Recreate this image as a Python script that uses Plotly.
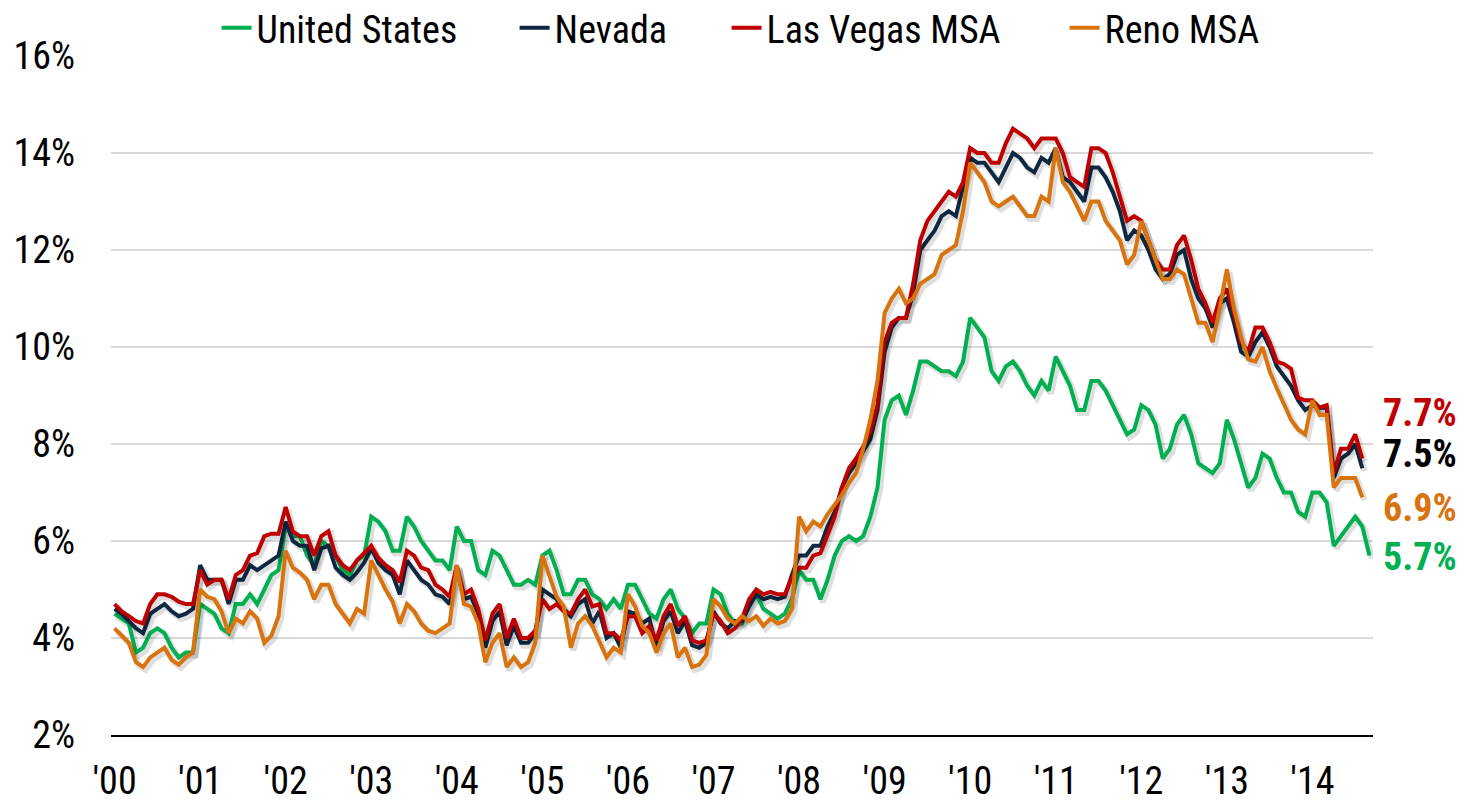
import plotly.graph_objects as go

# ---------------- data (monthly, Jan 2000 onward, not seasonally adjusted, %) ----------------
year_labels = ["'00", "'01", "'02", "'03", "'04", "'05", "'06", "'07",
               "'08", "'09", "'10", "'11", "'12", "'13", "'14"]
y_ticks = [2, 4, 6, 8, 10, 12, 14, 16]

united_states = [
    4.5, 4.4, 4.3, 3.7, 3.8, 4.1, 4.2, 4.1, 3.8, 3.6, 3.7, 3.7,
    4.7, 4.6, 4.5, 4.2, 4.1, 4.7, 4.7, 4.9, 4.7, 5.0, 5.3, 5.4,
    6.3, 6.1, 6.1, 5.7, 5.5, 6.0, 5.9, 5.7, 5.4, 5.3, 5.6, 5.7,
    6.5, 6.4, 6.2, 5.8, 5.8, 6.5, 6.3, 6.0, 5.8, 5.6, 5.6, 5.4,
    6.3, 6.0, 6.0, 5.4, 5.3, 5.8, 5.7, 5.4, 5.1, 5.1, 5.2, 5.1,
    5.7, 5.8, 5.4, 4.9, 4.9, 5.2, 5.2, 4.9, 4.8, 4.6, 4.8, 4.6,
    5.1, 5.1, 4.8, 4.5, 4.4, 4.8, 5.0, 4.6, 4.4, 4.1, 4.3, 4.3,
    5.0, 4.9, 4.5, 4.3, 4.3, 4.7, 4.9, 4.6, 4.5, 4.4, 4.5, 4.8,
    5.4, 5.2, 5.2, 4.8, 5.2, 5.7, 6.0, 6.1, 6.0, 6.1, 6.5, 7.1,
    8.5, 8.9, 9.0, 8.6, 9.1, 9.7, 9.7, 9.6, 9.5, 9.5, 9.4, 9.7,
    10.6, 10.4, 10.2, 9.5, 9.3, 9.6, 9.7, 9.5, 9.2, 9.0, 9.3, 9.1,
    9.8, 9.5, 9.2, 8.7, 8.7, 9.3, 9.3, 9.1, 8.8, 8.5, 8.2, 8.3,
    8.8, 8.7, 8.4, 7.7, 7.9, 8.4, 8.6, 8.2, 7.6, 7.5, 7.4, 7.6,
    8.5, 8.1, 7.6, 7.1, 7.3, 7.8, 7.7, 7.3, 7.0, 7.0, 6.6, 6.5,
    7.0, 7.0, 6.8, 5.9, 6.1, 6.3, 6.5, 6.3, 5.7,
]

nevada = [
    4.6, 4.5, 4.35, 4.2, 4.1, 4.5, 4.6, 4.7, 4.55, 4.45, 4.5, 4.6,
    5.5, 5.2, 5.2, 5.2, 4.7, 5.2, 5.2, 5.5, 5.4, 5.5, 5.6, 5.7,
    6.4, 6.0, 5.9, 5.9, 5.4, 5.85, 5.9, 5.45, 5.3, 5.2, 5.35, 5.55,
    5.85, 5.55, 5.4, 5.3, 4.9, 5.6, 5.4, 5.2, 5.1, 4.9, 4.85, 4.7,
    5.45, 4.8, 4.85, 4.5, 3.8, 4.35, 4.55, 3.85, 4.25, 3.9, 3.9, 4.1,
    5.0, 4.9, 4.8, 4.6, 4.45, 4.7, 4.8, 4.3, 4.55, 4.0, 4.1, 3.8,
    4.55, 4.5, 4.3, 4.4, 3.8, 4.35, 4.55, 4.1, 4.35, 3.85, 3.8, 3.9,
    4.55, 4.3, 4.2, 4.35, 4.35, 4.65, 4.9, 4.8, 4.85, 4.8, 4.85, 5.3,
    5.7, 5.7, 5.9, 5.9, 6.3, 6.6, 7.1, 7.4, 7.6, 7.85, 8.1, 8.7,
    9.9, 10.4, 10.6, 10.6, 11.1, 12.0, 12.2, 12.4, 12.7, 12.8, 12.7, 13.3,
    13.9, 13.8, 13.8, 13.6, 13.4, 13.7, 14.0, 13.9, 13.7, 13.6, 13.9, 13.8,
    14.1, 13.5, 13.4, 13.2, 13.0, 13.7, 13.7, 13.5, 13.2, 12.8, 12.2, 12.4,
    12.3, 12.0, 11.6, 11.4, 11.5, 11.9, 12.0, 11.4, 11.0, 10.8, 10.4, 10.9,
    11.0, 10.5, 9.9, 9.8, 10.1, 10.3, 10.0, 9.6, 9.4, 9.2, 8.9, 8.7,
    8.8, 8.75, 8.75, 7.3, 7.7, 7.8, 8.0, 7.5,
]

las_vegas = [
    4.7, 4.55, 4.45, 4.35, 4.3, 4.7, 4.9, 4.9, 4.85, 4.75, 4.7, 4.7,
    5.4, 5.1, 5.2, 5.2, 4.8, 5.3, 5.4, 5.7, 5.75, 6.1, 6.15, 6.15,
    6.7, 6.2, 6.1, 6.1, 5.7, 6.1, 6.2, 5.7, 5.5, 5.4, 5.6, 5.75,
    5.9, 5.65, 5.5, 5.4, 5.15, 5.8, 5.7, 5.45, 5.4, 5.1, 5.0, 4.85,
    5.5, 4.9, 5.0, 4.6, 3.95, 4.5, 4.7, 4.0, 4.4, 4.0, 4.0, 4.15,
    4.8, 4.6, 4.7, 4.55, 4.5, 4.8, 5.0, 4.65, 4.7, 4.1, 4.1, 3.95,
    4.45, 4.45, 4.1, 4.25, 3.95, 4.45, 4.7, 4.25, 4.45, 3.95, 3.9, 3.95,
    4.5, 4.35, 4.1, 4.2, 4.4, 4.8, 5.0, 4.9, 4.95, 4.9, 4.9, 5.25,
    5.45, 5.45, 5.7, 5.75, 6.1, 6.5, 7.1, 7.5, 7.7, 7.95, 8.25, 8.8,
    10.1, 10.5, 10.6, 10.6, 11.3, 12.2, 12.6, 12.8, 13.0, 13.2, 13.1, 13.4,
    14.1, 14.0, 14.0, 13.8, 13.8, 14.2, 14.5, 14.4, 14.3, 14.1, 14.3, 14.3,
    14.3, 14.0, 13.5, 13.4, 13.3, 14.1, 14.1, 14.0, 13.6, 13.1, 12.6, 12.7,
    12.6, 12.2, 11.8, 11.6, 11.6, 12.1, 12.3, 11.8, 11.2, 10.9, 10.5, 11.0,
    11.2, 10.7, 10.1, 9.9, 10.4, 10.4, 10.1, 9.7, 9.65, 9.55, 8.95, 8.9,
    8.9, 8.75, 8.8, 7.4, 7.9, 7.9, 8.2, 7.7,
]

reno = [
    4.2, 4.05, 3.9, 3.5, 3.4, 3.6, 3.7, 3.8, 3.55, 3.45, 3.6, 3.7,
    5.0, 4.85, 4.8, 4.55, 4.1, 4.4, 4.3, 4.55, 4.4, 3.9, 4.05, 4.45,
    5.8, 5.45, 5.35, 5.2, 4.8, 5.1, 5.1, 4.7, 4.5, 4.3, 4.6, 4.5,
    5.6, 5.3, 5.0, 4.75, 4.3, 4.7, 4.55, 4.3, 4.15, 4.1, 4.2, 4.3,
    5.5, 4.7, 4.65, 4.3, 3.5, 3.9, 4.1, 3.4, 3.6, 3.4, 3.5, 3.9,
    5.7, 5.25, 4.85, 4.65, 3.8, 4.3, 4.45, 4.25, 3.9, 3.6, 3.8, 3.7,
    4.9, 4.65, 4.25, 4.1, 3.7, 4.1, 4.3, 3.6, 3.8, 3.4, 3.45, 3.65,
    4.8, 4.65, 4.4, 4.3, 4.45, 4.35, 4.45, 4.25, 4.4, 4.3, 4.35, 4.6,
    6.5, 6.2, 6.4, 6.3, 6.55, 6.75, 6.95, 7.2, 7.4, 7.9, 8.5, 9.3,
    10.7, 11.0, 11.2, 10.9, 11.0, 11.3, 11.4, 11.5, 11.9, 12.0, 12.1, 12.8,
    13.8, 13.6, 13.4, 13.0, 12.9, 13.0, 13.1, 12.9, 12.7, 12.7, 13.1, 13.0,
    14.1, 13.4, 13.2, 12.9, 12.6, 13.0, 13.0, 12.6, 12.4, 12.2, 11.7, 11.9,
    12.6, 12.2, 11.8, 11.4, 11.4, 11.6, 11.5, 11.0, 10.5, 10.5, 10.1, 10.8,
    11.6, 10.8, 10.2, 9.75, 9.7, 10.0, 9.5, 9.15, 8.8, 8.5, 8.3, 8.2,
    8.9, 8.6, 8.6, 7.1, 7.3, 7.3, 7.3, 6.9,
]

# ---------------- styling ----------------
FONT = "Liberation Sans Narrow, Arial Narrow, Roboto Condensed, DejaVu Sans Condensed, sans-serif"
FS = 38

series = [
    ("United States", united_states, "#00B050", "legend"),
    ("Nevada", nevada, "#0E2841", "legend2"),
    ("Las Vegas MSA", las_vegas, "#C00000", "legend3"),
    ("Reno MSA", reno, "#D9730D", "legend4"),
]

fig = go.Figure()
for name, vals, color, lg in series:
    xs = list(range(len(vals)))
    # soft drop shadow (derived from the same data)
    fig.add_trace(go.Scatter(
        x=[x + 0.35 for x in xs], y=[v - 0.06 for v in vals], mode="lines",
        line=dict(color="rgba(0,0,0,0.13)", width=6), hoverinfo="skip",
        showlegend=False))
    fig.add_trace(go.Scatter(
        x=xs, y=vals, mode="lines", name=name, legend=lg,
        line=dict(color=color, width=4)))

# end-of-line value labels
label_pos = [(las_vegas, "#C00000", 0.4735), (nevada, "#000000", 0.414),
             (reno, "#D9730D", 0.335), (united_states, "#00B050", 0.262)]
for vals, color, ypos in label_pos:
    fig.add_annotation(
        xref="paper", yref="paper", x=1.0075, y=ypos, xanchor="left",
        yanchor="middle", showarrow=False, text=f"<b>{vals[-1]:.1f}%</b>",
        height=38, borderpad=0,
        font=dict(family=FONT, size=FS, color=color))

plot_left, plot_w = 111.4, 1262.0
def lx(px):
    return (px - plot_left) / plot_w

legend_common = dict(orientation="h", yanchor="middle", y=1.041, xanchor="left",
                     bgcolor="rgba(0,0,0,0)", font=dict(family=FONT, size=FS, color="#000"))

fig.update_layout(
    width=1467, height=803,
    margin=dict(l=111, r=94, t=56, b=68, pad=0, autoexpand=False),
    paper_bgcolor="white", plot_bgcolor="white",
    font=dict(family=FONT, size=FS, color="#000"),
    legend=dict(legend_common, x=lx(217)),
    legend2=dict(legend_common, x=lx(515)),
    legend3=dict(legend_common, x=lx(727)),
    legend4=dict(legend_common, x=lx(1065)),
    xaxis=dict(
        range=[-0.5, 176.5], tickvals=[12 * i for i in range(len(year_labels))],
        ticktext=year_labels, showgrid=False, zeroline=False,
        showline=True, linecolor="#000", linewidth=2, ticks="",
        ticklabelstandoff=11, tickfont=dict(family=FONT, size=FS, color="#000")),
    yaxis=dict(
        range=[2, 16], tickvals=y_ticks, ticktext=[f"{t}%" for t in y_ticks],
        showgrid=True, gridcolor="#D9D9D9", gridwidth=1.5, zeroline=False,
        showline=False, ticks="", ticklabelstandoff=35,
        tickfont=dict(family=FONT, size=FS, color="#000")),
    hovermode=False,
)

fig.write_html(
    "out.html",
    config={"displayModeBar": False},
    post_script="document.body.style.margin='0';document.body.style.overflow='hidden';",
)
